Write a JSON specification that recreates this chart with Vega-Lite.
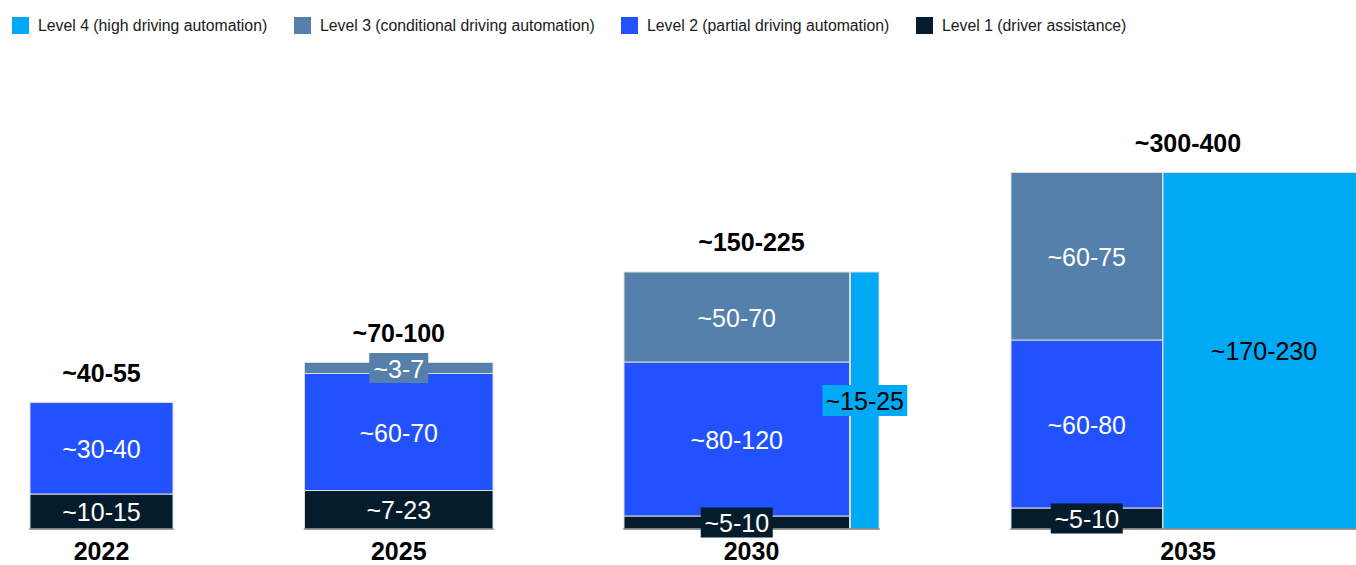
{
  "$schema": "https://vega.github.io/schema/vega-lite/v6.json",
  "width": 1356,
  "height": 565,
  "autosize": {"type": "none"},
  "padding": 0,
  "background": "white",
  "config": {"view": {"stroke": null}, "font": "Liberation Sans"},
  "datasets": {
    "segments": [
      {"year": "2022", "level": "Level 1 (driver assistance)", "label": "~10-15", "x0": 30, "x1": 173, "y0": 0, "y1": 35},
      {"year": "2022", "level": "Level 2 (partial driving automation)", "label": "~30-40", "x0": 30, "x1": 173, "y0": 35, "y1": 126.5},
      {"year": "2025", "level": "Level 1 (driver assistance)", "label": "~7-23", "x0": 304.5, "x1": 493, "y0": 0, "y1": 38.5},
      {"year": "2025", "level": "Level 2 (partial driving automation)", "label": "~60-70", "x0": 304.5, "x1": 493, "y0": 38.5, "y1": 155.5},
      {"year": "2025", "level": "Level 3 (conditional driving automation)", "label": "~3-7", "x0": 304.5, "x1": 493, "y0": 155.5, "y1": 166.5},
      {"year": "2030", "level": "Level 1 (driver assistance)", "label": "~5-10", "x0": 624, "x1": 849.5, "y0": 0, "y1": 13},
      {"year": "2030", "level": "Level 2 (partial driving automation)", "label": "~80-120", "x0": 624, "x1": 849.5, "y0": 13, "y1": 167},
      {"year": "2030", "level": "Level 3 (conditional driving automation)", "label": "~50-70", "x0": 624, "x1": 849.5, "y0": 167, "y1": 257},
      {"year": "2030", "level": "Level 4 (high driving automation)", "label": "~15-25", "x0": 850.5, "x1": 879, "y0": 0, "y1": 257},
      {"year": "2035", "level": "Level 1 (driver assistance)", "label": "~5-10", "x0": 1011, "x1": 1162.5, "y0": 0, "y1": 21},
      {"year": "2035", "level": "Level 2 (partial driving automation)", "label": "~60-80", "x0": 1011, "x1": 1162.5, "y0": 21, "y1": 189},
      {"year": "2035", "level": "Level 3 (conditional driving automation)", "label": "~60-75", "x0": 1011, "x1": 1162.5, "y0": 189, "y1": 356.5},
      {"year": "2035", "level": "Level 4 (high driving automation)", "label": "~170-230", "x0": 1163, "x1": 1365, "y0": 0, "y1": 356.5}
    ],
    "totals": [
      {"year": "2022", "total": "~40-55"},
      {"year": "2025", "total": "~70-100"},
      {"year": "2030", "total": "~150-225"},
      {"year": "2035", "total": "~300-400"}
    ]
  },
  "data": {"name": "segments"},
  "layer": [
    {
      "mark": {"type": "rect", "stroke": "#dcdcdc", "strokeWidth": 1},
      "encoding": {
        "x": {"field": "x0", "type": "quantitative", "scale": {"domain": [0, 1356], "nice": false, "zero": false}, "axis": null},
        "x2": {"field": "x1"},
        "y": {"field": "y0", "type": "quantitative", "scale": {"domain": [-36, 529], "nice": false, "zero": false}, "axis": null},
        "y2": {"field": "y1"},
        "color": {
          "field": "level",
          "type": "nominal",
          "scale": {
            "domain": ["Level 4 (high driving automation)", "Level 3 (conditional driving automation)", "Level 2 (partial driving automation)", "Level 1 (driver assistance)"],
            "range": ["#00A9F4", "#5580AB", "#2251FF", "#051C2C"]
          },
          "legend": {
            "orient": "none",
            "legendX": 12,
            "legendY": 17,
            "direction": "horizontal",
            "title": null,
            "symbolType": "square",
            "symbolSize": 289,
            "symbolStrokeWidth": 0,
            "labelFont": "Liberation Sans",
            "labelFontSize": 15.8,
            "labelColor": "#1a1a1a",
            "labelOffset": 9,
            "columnPadding": 26,
            "labelLimit": 500,
            "padding": 0
          }
        }
      }
    },
    {
      "transform": [
        {"aggregate": [{"op": "min", "field": "x0", "as": "gx0"}, {"op": "max", "field": "x1", "as": "gx1"}], "groupby": ["year"]}
      ],
      "mark": {"type": "rule", "color": "#808080", "strokeWidth": 1.5, "strokeCap": "square"},
      "encoding": {
        "x": {"field": "gx0", "type": "quantitative", "scale": {"domain": [0, 1356], "nice": false, "zero": false}, "axis": null},
        "x2": {"field": "gx1"},
        "y": {"datum": 0, "type": "quantitative", "scale": {"domain": [-36, 529], "nice": false, "zero": false}, "axis": null}
      }
    },
    {
      "transform": [
        {"filter": {"field": "label", "oneOf": ["~3-7", "~5-10", "~15-25"]}},
        {"fold": ["x0", "x1"], "as": ["kx", "xv"]},
        {"fold": ["y0", "y1"], "as": ["ky", "yv"]},
        {"aggregate": [{"op": "mean", "field": "xv", "as": "xc"}, {"op": "mean", "field": "yv", "as": "yc"}], "groupby": ["year", "level", "label"]}
      ],
      "mark": {"type": "point", "filled": true, "opacity": 1, "size": 10000, "strokeWidth": 0},
      "encoding": {
        "x": {"field": "xc", "type": "quantitative", "scale": {"domain": [0, 1356], "nice": false, "zero": false}, "axis": null},
        "y": {"field": "yc", "type": "quantitative", "scale": {"domain": [-36, 529], "nice": false, "zero": false}, "axis": null},
        "color": {"field": "level", "type": "nominal", "legend": null},
        "shape": {
          "field": "label",
          "type": "nominal",
          "scale": {
            "domain": ["~3-7", "~5-10", "~15-25"],
            "range": ["M-0.59,-0.3H0.59V0.3H-0.59Z", "M-0.72,-0.3H0.72V0.3H-0.72Z", "M-0.85,-0.31H0.85V0.31H-0.85Z"]
          },
          "legend": null
        }
      }
    },
    {
      "transform": [
        {"fold": ["x0", "x1"], "as": ["kx", "xv"]},
        {"fold": ["y0", "y1"], "as": ["ky", "yv"]},
        {"aggregate": [{"op": "mean", "field": "xv", "as": "xc"}, {"op": "mean", "field": "yv", "as": "yc"}], "groupby": ["year", "level", "label"]}
      ],
      "mark": {"type": "text", "font": "Liberation Sans", "fontSize": 25, "align": "center", "baseline": "middle", "dy": 1.5},
      "encoding": {
        "x": {"field": "xc", "type": "quantitative", "scale": {"domain": [0, 1356], "nice": false, "zero": false}, "axis": null},
        "y": {"field": "yc", "type": "quantitative", "scale": {"domain": [-36, 529], "nice": false, "zero": false}, "axis": null},
        "text": {"field": "label"},
        "color": {"condition": {"test": "datum.level === 'Level 4 (high driving automation)'", "value": "#000000"}, "value": "#ffffff"}
      }
    },
    {
      "transform": [
        {"aggregate": [{"op": "min", "field": "x0", "as": "gx0"}, {"op": "max", "field": "x1", "as": "gx1"}, {"op": "max", "field": "y1", "as": "gtop"}], "groupby": ["year"]},
        {"fold": ["gx0", "gx1"], "as": ["k", "gx"]},
        {"aggregate": [{"op": "mean", "field": "gx", "as": "gc"}, {"op": "max", "field": "gtop", "as": "top"}], "groupby": ["year"]},
        {"lookup": "year", "from": {"data": {"name": "totals"}, "key": "year", "fields": ["total"]}}
      ],
      "mark": {"type": "text", "font": "Liberation Sans", "fontSize": 25, "fontWeight": "bold", "align": "center", "baseline": "middle", "dy": -29, "color": "#000000"},
      "encoding": {
        "x": {"field": "gc", "type": "quantitative", "scale": {"domain": [0, 1356], "nice": false, "zero": false}, "axis": null},
        "y": {"field": "top", "type": "quantitative", "scale": {"domain": [-36, 529], "nice": false, "zero": false}, "axis": null},
        "text": {"field": "total"}
      }
    },
    {
      "transform": [
        {"aggregate": [{"op": "min", "field": "x0", "as": "gx0"}, {"op": "max", "field": "x1", "as": "gx1"}], "groupby": ["year"]},
        {"fold": ["gx0", "gx1"], "as": ["k", "gx"]},
        {"aggregate": [{"op": "mean", "field": "gx", "as": "gc"}], "groupby": ["year"]}
      ],
      "mark": {"type": "text", "font": "Liberation Sans", "fontSize": 25, "fontWeight": "bold", "align": "center", "baseline": "alphabetic", "dy": 31, "color": "#000000"},
      "encoding": {
        "x": {"field": "gc", "type": "quantitative", "scale": {"domain": [0, 1356], "nice": false, "zero": false}, "axis": null},
        "y": {"datum": 0, "type": "quantitative", "scale": {"domain": [-36, 529], "nice": false, "zero": false}, "axis": null},
        "text": {"field": "year"}
      }
    }
  ]
}
